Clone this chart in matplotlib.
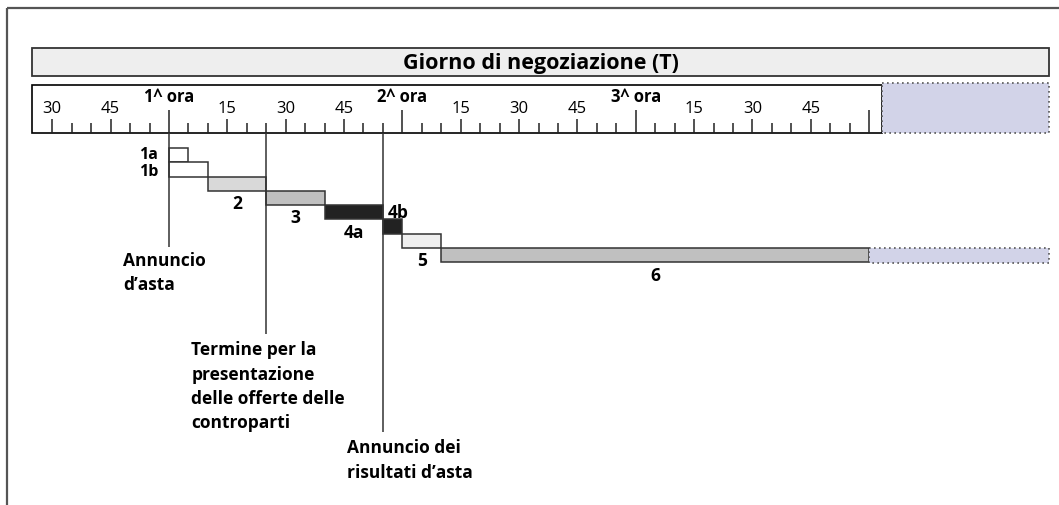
import matplotlib.pyplot as plt
from matplotlib.patches import Rectangle

plt.rcParams['font.family'] = ['Open Sans', 'DejaVu Sans']

# phases of the auction day (minutes from the 1st hour)
phase_labels = ['1a', '1b', '2', '3', '4a', '4b', '5', '6']
phase_start = [0, 0, 10, 25, 40, 55, 60, 70]
phase_end = [5, 10, 25, 40, 55, 60, 70, 180]
phase_colors = ['white', 'white', '#d9d9d9', '#c0c0c0', '#222222', '#222222',
                '#efefef', '#c0c0c0']

# timeline ticks
tick_minutes = list(range(-30, 181, 5))
hour_labels = {0: '1^ ora', 60: '2^ ora', 120: '3^ ora'}

# events
event_minutes = [0, 25, 55]
event_texts = ["Annuncio\nd\u2019asta",
               "Termine per la\npresentazione\ndelle offerte delle\ncontroparti",
               "Annuncio dei\nrisultati d\u2019asta"]
event_line_end = [6.92, 13.0, 19.86]          # rows
event_text_pos = [(-11.8, 7.2), (5.7, 13.45), (45.8, 20.3)]

title = 'Giorno di negoziazione (T)'

# layout (minutes on x, rows on y)
T_LEFT, T_BOX_END, T_FULL_END = -35.2, 183.3, 226.2
HEAD_TOP, HEAD_BOT = -6.99, -5.0
TL_TOP, TL_BOT = -4.44, -1.05

fig = plt.figure(figsize=(10.59, 5.06), dpi=100)
ax = fig.add_axes([0, 0, 1, 1])
ax.set_xlim(-43.44, 228.79)
ax.set_ylim(24.97, -10.42)
ax.axis('off')

# outer frame (only left and top visible)
ax.add_patch(Rectangle((-41.65, -9.79), 400, 60, fill=False,
                       edgecolor='#555555', lw=1.6))

# header bar
ax.add_patch(Rectangle((T_LEFT, HEAD_TOP), T_FULL_END - T_LEFT, HEAD_BOT - HEAD_TOP,
                       facecolor='#eeeeee', edgecolor='#333333', lw=1.3))
ax.text((T_LEFT + T_FULL_END) / 2, (HEAD_TOP + HEAD_BOT) / 2 + 0.05, title,
        ha='center', va='center', fontsize=15.5, fontweight='bold')

# timeline box and its continuation
ax.add_patch(Rectangle((T_LEFT, TL_TOP), T_BOX_END - T_LEFT, TL_BOT - TL_TOP,
                       facecolor='white', edgecolor='black', lw=1.2))
ax.add_patch(Rectangle((T_BOX_END, TL_TOP - 0.1), T_FULL_END - T_BOX_END,
                       TL_BOT - TL_TOP + 0.1, facecolor='#d2d3e8',
                       edgecolor='#555555', lw=1.2, linestyle=(0, (1, 2))))

for m in tick_minutes:
    if m % 60 == 0:
        length = 1.61
    elif m % 15 == 0:
        length = 0.98
    else:
        length = 0.70
    ax.vlines(m, TL_BOT - length, TL_BOT, color='#222222', lw=1.1)
    if m in hour_labels:
        ax.text(m, -3.64, hour_labels[m], ha='center', va='center',
                fontsize=12, fontweight='bold')
    elif m % 15 == 0 and m % 60 != 0:
        ax.text(m, -2.8, str(m % 60), ha='center', va='center', fontsize=12)

# event lines and texts
for m, yend, txt, (tx, ty) in zip(event_minutes, event_line_end, event_texts,
                                  event_text_pos):
    ax.vlines(m, TL_BOT, yend, color='#333333', lw=1.1)
    ax.text(tx, ty, txt, ha='left', va='top', fontsize=12.5, fontweight='bold',
            linespacing=1.45)

# phase bars
for i, (lab, s, e, c) in enumerate(zip(phase_labels, phase_start, phase_end,
                                       phase_colors)):
    ax.barh(i, e - s, left=s, height=1, align='edge', color=c,
            edgecolor='#333333', lw=1.1)
    if lab == '1a':
        ax.text(-2.8, i + 0.42, lab, ha='right', va='center', fontsize=11.5,
                fontweight='bold')
    elif lab == '1b':
        ax.text(-2.8, i + 0.62, lab, ha='right', va='center', fontsize=11.5,
                fontweight='bold')
    elif lab == '4b':
        ax.text(s + 1.3, i - 0.55, lab, ha='left', va='center', fontsize=12.5,
                fontweight='bold')
    else:
        ax.text((s + e) / 2, i + 1.85, lab, ha='center', va='center',
                fontsize=12.5, fontweight='bold')

# continuation of the last phase
last = len(phase_labels) - 1
ax.add_patch(Rectangle((phase_end[-1], last), T_FULL_END - phase_end[-1], 1.05,
                       facecolor='#d2d3e8', edgecolor='#555555', lw=1.2,
                       linestyle=(0, (1, 2))))

fig.savefig('out.png', dpi=100)
